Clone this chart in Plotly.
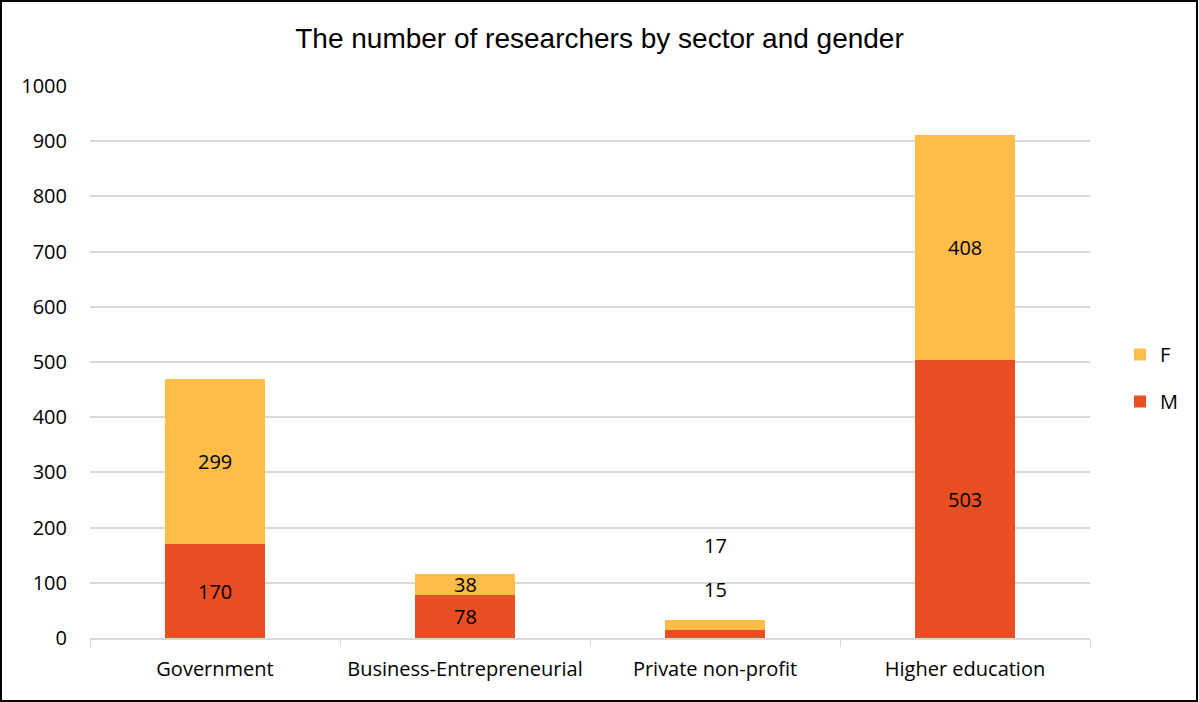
import plotly.graph_objects as go

sectors = ["Government", "Business-Entrepreneurial", "Private non-profit", "Higher education"]
male = [170, 78, 15, 503]
female = [299, 38, 17, 408]
y_ticks = [0, 100, 200, 300, 400, 500, 600, 700, 800, 900, 1000]

W, H = 1199, 702
ML, MR, MT, MB = 90, 109, 86, 64
PW, PH = W - ML - MR, H - MT - MB

color_m = "#E84F23"
color_f = "#FFBC48"
base_font = "Open Sans, Lato, sans-serif"
label_font = dict(family=base_font, size=20, color="#000000")

fig = go.Figure()
fig.add_trace(go.Bar(
    name="M", x=sectors, y=male, marker=dict(color=color_m, line=dict(width=0)),
    width=0.4, legendgroup="M", legendrank=2, hoverinfo="x+y",
))
fig.add_trace(go.Bar(
    name="F", x=sectors, y=female, marker=dict(color=color_f, line=dict(width=0)),
    width=0.4, legendgroup="F", legendrank=1, hoverinfo="x+y",
))

# value labels: centred in each segment, or stacked above when the bar is too thin
annotations = []
for s, m, f in zip(sectors, male, female):
    if m + f >= 60:
        annotations.append(dict(x=s, y=m / 2, text=str(m), showarrow=False,
                                font=label_font, xref="x", yref="y"))
        annotations.append(dict(x=s, y=m + f / 2, text=str(f), showarrow=False,
                                font=label_font, xref="x", yref="y"))
    else:
        annotations.append(dict(x=s, y=m + 72, text=str(m), showarrow=False,
                                font=label_font, xref="x", yref="y"))
        annotations.append(dict(x=s, y=m + f + 135, text=str(f), showarrow=False,
                                font=label_font, xref="x", yref="y"))

fig.update_layout(
    width=W, height=H,
    margin=dict(l=ML, r=MR, t=MT, b=MB),
    paper_bgcolor="white", plot_bgcolor="white",
    barmode="stack",
    title=dict(text="The number of researchers by sector and gender",
               x=0.5, xanchor="center", y=1 - 38 / H, yanchor="middle",
               font=dict(family="Liberation Sans, Arial, sans-serif", size=28, color="#000000")),
    legend=dict(x=(1120 - ML) / PW, y=1 - (335 - MT) / PH, xanchor="left", yanchor="top",
                traceorder="grouped", font=dict(family=base_font, size=20, color="#000000"),
                itemwidth=30, tracegroupgap=18, bgcolor="rgba(0,0,0,0)"),
    annotations=annotations,
    shapes=[dict(type="rect", xref="paper", yref="paper",
                 x0=(1 - ML) / PW, x1=(W - 2 - ML) / PW,
                 y0=-(H - 1 - MT - PH) / PH, y1=1 + (MT - 1) / PH,
                 line=dict(color="#000000", width=2), fillcolor="rgba(0,0,0,0)")],
    showlegend=True,
)

fig.update_xaxes(
    showline=True, linecolor="#D9D9D9", linewidth=1.5,
    ticks="outside", tickson="boundaries", ticklen=7, tickcolor="#D9D9D9",
    ticklabelstandoff=12,
    tickfont=dict(family=base_font, size=20, color="#000000"),
    showgrid=False,
)
fig.update_yaxes(
    range=[0, 1000], tickvals=y_ticks, ticktext=[str(v) for v in y_ticks],
    showgrid=True, gridcolor="#D9D9D9", gridwidth=1.5, zeroline=False,
    showline=False, ticks="", ticklabelstandoff=22,
    tickfont=dict(family=base_font, size=20, color="#000000"),
)

fig.write_html("out.html")
